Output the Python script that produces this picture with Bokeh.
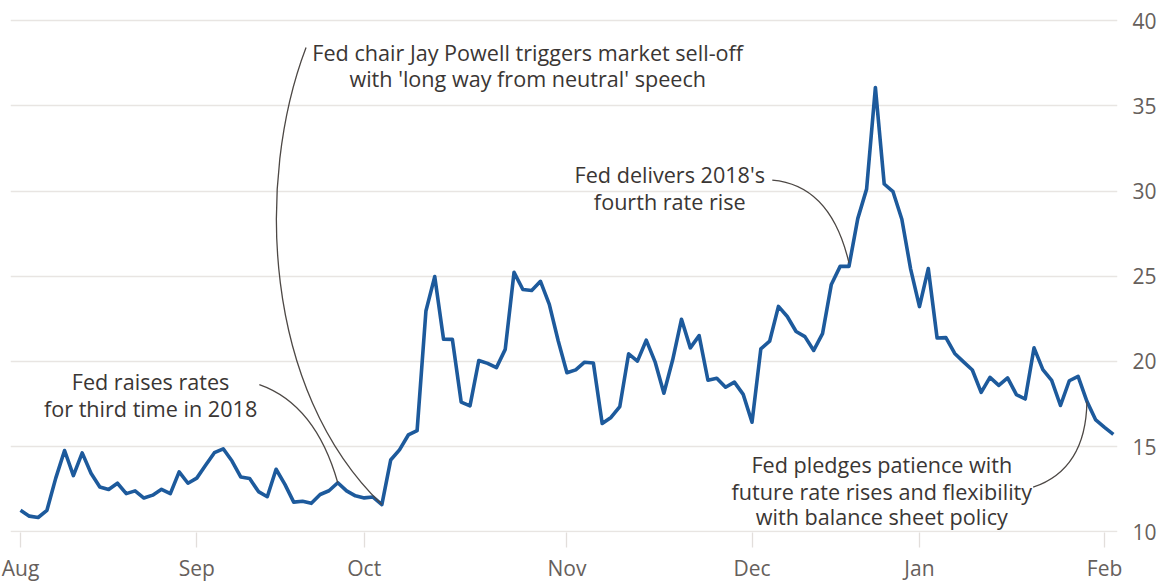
from bokeh.plotting import figure
from bokeh.models import FixedTicker, Range1d
from bokeh.core.properties import value
from bokeh.embed import file_html
from bokeh.resources import INLINE

# VIX daily closes, one list per month (trading days)
aug = [11.27, 10.93, 10.85, 11.27, 13.16, 14.78, 13.31, 14.64, 13.45, 12.64,
       12.49, 12.86, 12.25, 12.41, 11.99, 12.16, 12.50, 12.25, 13.53, 12.86]
sep = [13.16, 13.91, 14.65, 14.88, 14.16, 13.22, 13.14, 12.37, 12.07, 13.68,
       12.79, 11.75, 11.80, 11.68, 12.20, 12.42, 12.89, 12.41, 12.12]
oct_ = [12.00, 12.05, 11.61, 14.22, 14.82, 15.69, 15.95, 22.96, 24.98, 21.31,
        21.30, 17.62, 17.40, 20.06, 19.89, 19.64, 20.71, 25.23, 24.22, 24.16,
        24.70, 23.35, 21.23]
nov = [19.34, 19.51, 19.96, 19.91, 16.36, 16.72, 17.36, 20.45, 20.02, 21.25,
       19.98, 18.14, 20.10, 22.48, 20.80, 21.52, 18.90, 19.02, 18.49, 18.79,
       18.07]
dec = [16.44, 20.74, 21.19, 23.23, 22.64, 21.76, 21.46, 20.65, 21.63, 24.52,
       25.58, 25.58, 28.38, 30.11, 36.07, 30.41, 29.96, 28.34, 25.42]
jan = [23.22, 25.45, 21.38, 21.40, 20.47, 19.98, 19.50, 18.19, 19.07, 18.60,
       19.04, 18.06, 17.80, 20.80, 19.52, 18.89, 17.42, 18.87, 19.13, 17.66,
       16.57]
feb = [16.14, 15.73]

months = [aug, sep, oct_, nov, dec, jan, feb]
month_labels = ["Aug", "Sep", "Oct", "Nov", "Dec", "Jan", "Feb"]
y_ticks = [10, 15, 20, 25, 30, 35, 40]

# events: (month position, trading-day position within month)
event_fed_sep = (1, 16)    # 26 Sep
event_powell = (2, 2)      # 3 Oct
event_fed_dec = (4, 11)    # 19 Dec
event_fed_jan = (5, 19)    # 30 Jan

vix = [v for m in months for v in m]
xs = list(range(len(vix)))
month_start = []
acc = 0
for m in months:
    month_start.append(acc)
    acc += len(m)


def ev(e):
    i = month_start[e[0]] + e[1]
    return i, vix[i]


FONT = "Open Sans"

p = figure(width=1161, height=584, output_backend="svg", toolbar_location=None,
           y_axis_location="right",
           x_range=Range1d(-1.135, 124.47), y_range=Range1d(9.97, 40.47),
           min_border_left=10, min_border_right=44, min_border_top=12,
           min_border_bottom=51)
p.outline_line_color = None
p.background_fill_color = "white"
p.border_fill_color = "white"

p.xgrid.grid_line_color = None
p.ygrid.grid_line_color = "#e8e5e2"
p.ygrid.grid_line_width = 1.3

p.yaxis.ticker = FixedTicker(ticks=y_ticks)
p.yaxis.axis_line_color = None
p.yaxis.major_tick_line_color = None
p.yaxis.minor_tick_line_color = None
p.yaxis.major_label_text_font = FONT
p.yaxis.major_label_text_font_size = "21px"
p.yaxis.major_label_text_color = "#66605c"
p.yaxis.major_label_standoff = 9

p.xaxis.ticker = FixedTicker(ticks=month_start)
p.xaxis.major_label_overrides = {s: l for s, l in zip(month_start, month_labels)}
p.xaxis.axis_line_color = None
p.xaxis.major_tick_line_color = "#e2dedb"
p.xaxis.major_tick_line_width = 1.3
p.xaxis.major_tick_in = 0
p.xaxis.major_tick_out = 15
p.xaxis.minor_tick_line_color = None
p.xaxis.major_label_text_font = FONT
p.xaxis.major_label_text_font_size = "21px"
p.xaxis.major_label_text_color = "#66605c"
p.xaxis.major_label_standoff = 6

p.line(xs, vix, line_color="#1d5a9c", line_width=3.6, line_join="round")

conn = dict(line_color="#4d4845", line_width=1.3)

# Fed raises rates (Sep)
ex, ey = ev(event_fed_sep)
p.quadratic(x0=[27.1], y0=[18.65], x1=[ex], y1=[ey], cx=[33.48], cy=[17.49], **conn)
# Powell speech (Oct)
ex, ey = ev(event_powell)
p.bezier(x0=[32.4], y0=[38.42], x1=[ex], y1=[ey], cx0=[26.67], cy0=[30.64],
         cx1=[27.47], cy1=[18.36], **conn)
# Fed Dec hike
ex, ey = ev(event_fed_dec)
p.quadratic(x0=[85.3], y0=[30.64], x1=[ex], y1=[ey + 0.2], cx=[91.94], cy=[30.35], **conn)
# Fed Jan pledge
ex, ey = ev(event_fed_jan)
p.quadratic(x0=[114.9], y0=[12.63], x1=[ex], y1=[ey], cx=[120.89], cy=[13.68], **conn)

txt = dict(text_align="center", text_baseline="middle", text_font=value(FONT),
           text_font_size="21.6px", text_color="#3a3634")
p.text(x=[14.76, 14.76], y=[18.83, 17.24],
       text=["Fed raises rates", "for third time in 2018"], **txt)
p.text(x=[57.55, 57.55], y=[38.13, 36.61],
       text=["Fed chair Jay Powell triggers market sell-off",
             "with 'long way from neutral' speech"], **txt)
p.text(x=[73.67, 73.67], y=[30.94, 29.36],
       text=["Fed delivers 2018's", "fourth rate rise"], **txt)
p.text(x=[97.73, 97.73, 97.73], y=[13.98, 12.40, 10.88],
       text=["Fed pledges patience with", "future rate rises and flexibility",
             "with balance sheet policy"], **txt)

open("out.html", "w").write(file_html(p, INLINE))
